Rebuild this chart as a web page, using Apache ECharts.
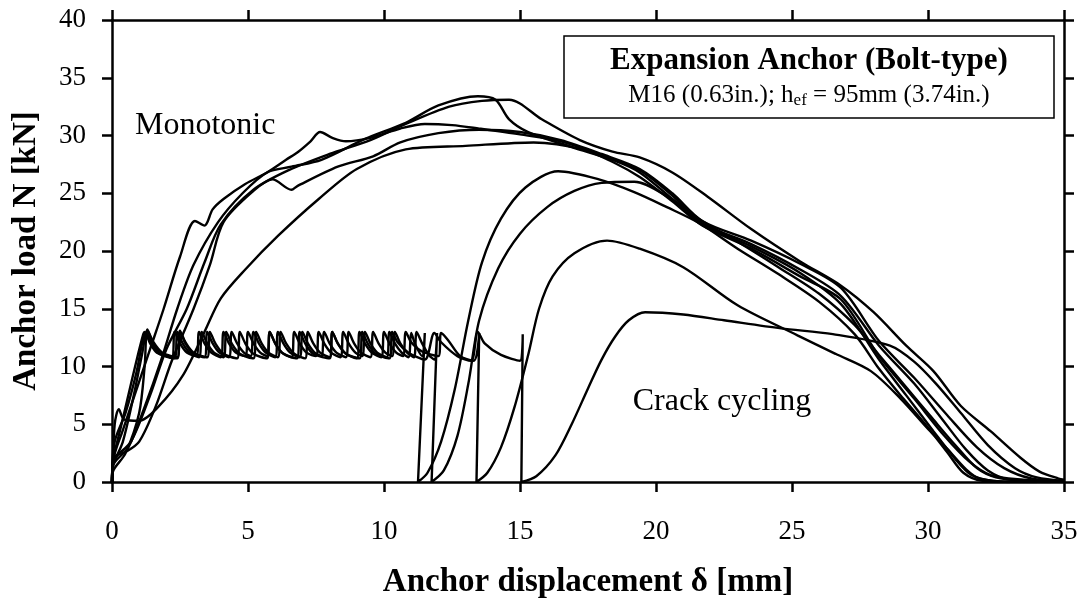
<!DOCTYPE html>
<html>
<head>
<meta charset="utf-8">
<script src="https://cdn.jsdelivr.net/npm/echarts@6/dist/echarts.min.js"></script>
<style>html,body{margin:0;padding:0;background:#fff;}#c{width:1081px;height:604px;}</style>
</head>
<body>
<div id="c"></div>
<script>
// ---- Data (x: anchor displacement [mm], y: anchor load [kN]) ----
const xTitle = 'Anchor displacement δ [mm]';
const yTitle = 'Anchor load N [kN]';
const boxTitle = 'Expansion Anchor (Bolt-type)';
const labelMono = 'Monotonic';
const labelCrack = 'Crack cycling';

// Monotonic tests
const mono1 = [[0,0],[0.05,2],[0.4,4.5],[0.9,8],[1.4,11.5],[1.9,15],[2.5,19.5],[3.05,22.6],[3.4,22.2],[3.7,23.6],[4.1,24.5],[4.9,25.8],[5.7,26.8],[6.4,27.9],[6.85,28.6],[7.3,29.5],[7.65,30.3],[8.1,29.8],[8.6,29.5],[9.5,29.8],[10.6,30.6],[11.5,31.0],[12.5,30.9],[13.5,30.6],[15,30.1],[16.5,29.5],[18,28.3],[19.4,27],[20.6,24.8],[21.7,22.4],[23.5,20.6],[25.3,18.4],[26.8,16.1],[28.2,11.8],[29.5,8.5],[30.5,5.5],[31.4,2.8],[32.2,1],[33,0.2],[34.5,0]];
const mono2 = [[0,0],[0.05,1.5],[0.6,3],[1.2,6.5],[1.8,10.5],[2.4,15],[3.0,18.8],[3.9,22.5],[4.8,25.0],[5.7,26.8],[6.6,27.3],[7.7,27.9],[9.3,29.7],[10.8,31.1],[12,32.6],[13.45,33.4],[14.1,33.1],[14.6,31.4],[15.3,30.3],[16.9,29],[18.5,27.8],[19.4,26.8],[20.6,24.5],[21.7,22.3],[23.5,20.4],[25.3,18.1],[26.8,15.4],[28.2,10.6],[29.2,7.5],[30.2,4.4],[31,2],[31.6,0.6],[32.4,0.1],[34,0]];
const mono3 = [[0,0],[0.05,1.8],[0.7,3.5],[1.4,7.5],[2.0,11.5],[2.75,15],[3.4,19],[4.0,22.3],[5.2,25.3],[6.5,27],[8,28.4],[9.5,29.6],[10.8,31],[12.4,32.5],[13.6,33],[14.6,33.1],[15.8,31.4],[17.2,29.6],[18.4,28.6],[19.4,28.1],[20.6,26.8],[21.9,24.7],[23.5,21.9],[25.3,19.1],[26.8,17],[28,14.7],[29.2,11.8],[30.2,9.6],[31.2,6.6],[32.3,4.4],[33.4,2.1],[34.1,0.9],[34.8,0.3],[35,0.2]];
const mono4 = [[0,0],[0.1,2.2],[0.5,2.6],[1.0,3.5],[1.6,6.5],[2.2,10.5],[3.0,15],[3.6,18.8],[4.1,22.5],[5.2,25.2],[5.9,26.2],[6.6,25.3],[6.8,25.6],[8.3,27.3],[9.6,28.2],[10.6,29.4],[12,30.2],[13.5,30.5],[15,30.3],[16.5,29.6],[18,28.4],[19.4,27.1],[20.6,25],[21.7,22.6],[23.5,20.9],[25.3,18.9],[26.8,16.8],[28.2,12.2],[29.5,9],[30.7,5.8],[31.8,3],[32.8,1.2],[33.8,0.3],[35,0.1]];
const mono5 = [[0,0],[0.1,5],[0.25,6.3],[0.45,5.4],[1.0,5.3],[1.7,6.5],[2.6,9.2],[3.4,13],[4.0,15.9],[4.9,18.4],[6.1,21.3],[7.6,24.5],[9.0,27.1],[10.8,28.8],[13,29.1],[15.5,29.4],[17.3,28.8],[18.5,27.6],[19.4,26.4],[20.6,24.3],[21.7,22.2],[23.5,20.2],[25.3,17.8],[26.8,15.8],[28.2,10.9],[29.5,7.2],[30.6,4],[31.5,1.8],[32.3,0.6],[33.5,0.2],[35,0]];

// Crack cycling tests
const crack1 = [[0,0],[0.05,2],[0.3,4.5],[0.6,7.5],[0.9,10.5],[1.15,12.8],[1.2,13.0],[1.4,12.0],[1.65,11.2],[2.2,10.8],[2.3,13.0],[2.5,12.0],[2.75,11.2],[3.1,10.9],[3.2,13.0],[3.4,12.0],[3.65,11.2],[4.0,10.8],[4.1,13.0],[4.3,12.0],[4.55,11.2],[4.9,10.9],[5.0,13.0],[5.2,12.0],[5.45,11.2],[5.7,10.9],[5.8,13.0],[6.0,12.0],[6.25,11.2],[6.6,10.8],[6.7,13.0],[6.9,12.0],[7.15,11.2],[7.5,10.9],[7.6,13.0],[7.8,12.0],[8.05,11.2],[8.4,10.8],[8.5,13.0],[8.7,12.0],[8.95,11.2],[9.2,10.9],[9.3,13.0],[9.5,12.0],[9.75,11.2],[10.1,10.8],[10.2,13.0],[10.4,12.0],[10.65,11.2],[10.9,10.8],[11.0,12.9],[11.15,11.9],[11.4,10.9],[11.5,12.9],[11.25,0],[11.6,0.8],[12.1,3.5],[12.6,8],[13.1,14],[13.6,19],[14.3,22.8],[15.2,25.5],[16.4,26.9],[17.9,26.2],[19.2,25.1],[20.4,23.8],[21.6,22.4],[23.0,20.2],[24.5,18.0],[26,15.6],[27.3,12.8],[28.2,9.8],[29.1,7.2],[29.9,5],[30.7,2.6],[31.3,0.8],[32,0.1],[33,0]];
const crack2 = [[0,0],[0.05,1.5],[0.4,3.5],[0.8,7.5],[1.1,11],[1.3,13.1],[1.5,12.1],[1.8,11.1],[2.4,10.7],[2.5,13.0],[2.7,12.0],[2.95,11.2],[3.4,10.8],[3.5,13.0],[3.7,12.0],[3.95,11.2],[4.3,10.8],[4.4,13.0],[4.6,12.0],[4.85,11.2],[5.1,10.9],[5.2,13.0],[5.4,12.0],[5.65,11.2],[6.0,10.8],[6.1,13.0],[6.3,12.0],[6.55,11.2],[6.9,10.8],[7.0,13.0],[7.2,12.0],[7.45,11.2],[7.7,10.9],[7.8,13.0],[8.0,12.0],[8.25,11.2],[8.6,10.8],[8.7,13.0],[8.9,12.0],[9.15,11.2],[9.5,10.8],[9.6,13.0],[9.8,12.0],[10.05,11.2],[10.3,10.9],[10.4,13.0],[10.6,12.0],[10.85,11.2],[11.1,10.8],[11.2,13.0],[11.4,12.0],[11.65,11.0],[11.85,10.6],[11.95,12.9],[11.75,0],[12.2,1],[12.7,4],[13.1,8.5],[13.5,14],[14.2,18.5],[15,21.5],[16,23.8],[17,25.2],[18,25.9],[19.2,26],[20.5,24.6],[21.7,22.6],[23,20.8],[24.5,18.6],[26,16.3],[27.3,13.6],[28.2,11],[29.2,8.2],[30.2,5.4],[31,3.2],[31.8,1.2],[32.5,0.4],[33.5,0.1]];
const crack3 = [[0,0],[0.1,3.5],[0.5,6],[0.9,9.5],[1.15,12.5],[1.25,12.9],[1.45,12.0],[1.75,11.1],[2.3,10.7],[2.4,13.0],[2.6,12.0],[2.85,11.2],[3.2,10.8],[3.3,13.0],[3.5,12.0],[3.75,11.2],[4.1,10.8],[4.2,13.0],[4.4,12.0],[4.7,11.1],[5.2,10.7],[5.3,13.0],[5.5,12.0],[5.75,11.2],[6.1,10.8],[6.2,13.0],[6.4,12.0],[6.7,11.1],[7.1,10.7],[7.2,13.0],[7.4,12.0],[7.65,11.2],[8.0,10.8],[8.1,13.0],[8.3,12.0],[8.6,11.1],[9.0,10.7],[9.1,13.0],[9.3,12.0],[9.55,11.2],[9.9,10.8],[10.0,13.0],[10.2,12.0],[10.45,11.2],[10.7,10.9],[10.8,13.0],[11.0,12.1],[11.4,11.3],[12.0,10.9],[12.1,12.9],[12.35,12.3],[12.8,10.9],[13.3,10.5],[13.5,12.9],[13.4,0],[13.8,0.8],[14.3,3],[14.8,6.5],[15.3,11],[15.7,15],[16.2,17.8],[17,19.8],[18.2,20.9],[19.4,20.2],[21,18.6],[23,15.3],[25.2,12.7],[26.6,11.1],[27.9,9.6],[29,7.2],[30,4.6],[30.7,2.9],[31.4,1.1],[31.9,0.3],[33,0]];
const crack4 = [[0,0],[0.05,1],[0.5,2.5],[1.0,6],[1.2,10],[1.3,13.2],[1.5,12.2],[1.85,11.2],[2.4,10.8],[2.5,13.1],[2.7,12.1],[3.0,11.2],[3.5,10.8],[3.6,13.0],[3.8,12.0],[4.1,11.1],[4.6,10.7],[4.7,13.0],[4.9,12.0],[5.2,11.1],[5.7,10.7],[5.8,13.0],[6.0,12.0],[6.3,11.1],[6.8,10.7],[6.9,13.0],[7.1,12.0],[7.4,11.1],[8.0,10.7],[8.1,13.0],[8.3,12.0],[8.6,11.1],[9.1,10.7],[9.2,13.0],[9.4,12.0],[9.7,11.1],[10.2,10.7],[10.3,13.0],[10.5,12.1],[10.9,11.2],[11.5,10.6],[11.85,12.9],[12.1,12.1],[12.7,10.9],[13.2,10.5],[13.45,13.0],[13.7,12.0],[14.3,11.0],[15.0,10.5],[15.1,12.8],[15.05,0],[15.6,0.5],[16.3,2.3],[16.9,5],[17.5,8.1],[18.0,10.6],[18.5,12.6],[19,14],[19.6,14.7],[21,14.5],[22.5,14.0],[24.6,13.3],[26.5,12.8],[28.6,11.8],[29.5,10.4],[30.3,8.5],[31.2,6],[32.2,3.2],[33.2,1.2],[34,0.4],[35,0.1]];

const curves = [mono1, mono2, mono3, mono4, mono5, crack1, crack2, crack3, crack4];

// ---- Chart ----
const FONT = '"Liberation Serif", "Times New Roman", serif';
const chart = echarts.init(document.getElementById('c'), null, {renderer: 'canvas'});
const axisLine = {show: true, onZero: false, lineStyle: {color: '#000', width: 2.5}};
const axisTick = {show: true, inside: false, length: 10, lineStyle: {color: '#000', width: 2.5}};

chart.setOption({
  animation: false,
  backgroundColor: '#fff',
  grid: {left: 112, right: 17, top: 20, bottom: 120, containLabel: false},
  xAxis: [
    {type: 'value', min: 0, max: 35, interval: 5, position: 'bottom',
     axisLine: axisLine, axisTick: axisTick, splitLine: {show: false},
     axisLabel: {fontFamily: FONT, fontSize: 27, color: '#000', margin: 36},
     name: xTitle, nameLocation: 'middle', nameGap: 84,
     nameTextStyle: {fontFamily: FONT, fontWeight: 'bold', fontSize: 33, color: '#000'}},
    {type: 'value', min: 0, max: 35, interval: 5, position: 'top',
     axisLine: axisLine, axisTick: axisTick, splitLine: {show: false},
     axisLabel: {show: false}}
  ],
  yAxis: [
    {type: 'value', min: 0, max: 40, interval: 5, position: 'left',
     axisLine: axisLine, axisTick: axisTick, splitLine: {show: false},
     axisLabel: {fontFamily: FONT, fontSize: 27, color: '#000', margin: 26},
     name: yTitle, nameLocation: 'middle', nameGap: 69,
     nameTextStyle: {fontFamily: FONT, fontWeight: 'bold', fontSize: 33, color: '#000'}},
    {type: 'value', min: 0, max: 40, interval: 5, position: 'right',
     axisLine: axisLine, axisTick: axisTick, splitLine: {show: false},
     axisLabel: {show: false}}
  ],
  series: curves.map(function (d) {
    return {type: 'line', data: d, xAxisIndex: 0, yAxisIndex: 0,
            showSymbol: false, symbol: 'none', smooth: 0.3,
            lineStyle: {color: '#000', width: 2.4}};
  }),
  graphic: [
    {type: 'rect', shape: {x: 564, y: 36, width: 490, height: 82},
     style: {fill: '#fff', stroke: '#000', lineWidth: 1.5}, z: 10},
    {type: 'text', x: 809, y: 61, z: 11,
     style: {text: boxTitle, font: 'bold 31px ' + FONT, fill: '#000', textAlign: 'center', textVerticalAlign: 'middle'}},
    {type: 'text', x: 809, y: 95, z: 11,
     style: {text: 'M16 (0.63in.); h{sub|ef} = 95mm (3.74in.)',
             font: '25px ' + FONT, fill: '#000', textAlign: 'center', textVerticalAlign: 'middle',
             rich: {sub: {fontFamily: FONT, fontSize: 17, padding: [12, 0, 0, 0]}}}},
    {type: 'text', x: 135, y: 126, z: 11,
     style: {text: labelMono, font: '32px ' + FONT, fill: '#000', textAlign: 'left', textVerticalAlign: 'middle'}},
    {type: 'text', x: 722, y: 402, z: 11,
     style: {text: labelCrack, font: '32px ' + FONT, fill: '#000', textAlign: 'center', textVerticalAlign: 'middle'}}
  ]
});
</script>
</body>
</html>
